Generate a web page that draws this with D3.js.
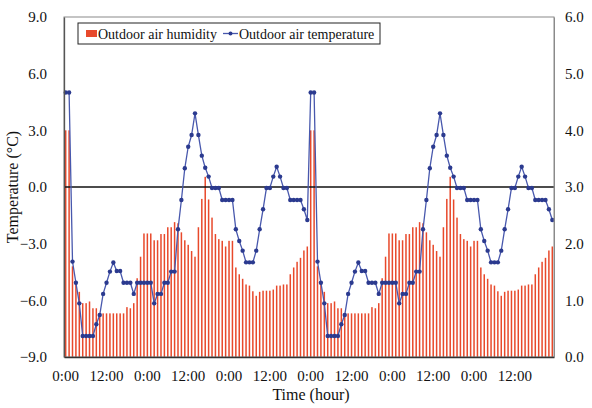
<!DOCTYPE html>
<html lang="en">
<head>
    <meta charset="UTF-8">
    <script src="https://d3js.org/d3.v7.min.js"></script>
    <title>Outdoor air</title>
    <style>
        body { margin: 0; background: #fff; }
        text { font-family: "Liberation Serif", "Times New Roman", serif; fill: #111; }
    </style>
</head>
<body>
<div id="viz"></div>
<script>
    // hourly values over 6 days
    const humidity = [
        4.0, 4.0, 1.6, 1.3, 1.15, 0.95, 0.95, 0.98, 0.86, 0.86, 0.77, 0.77,
        0.77, 0.77, 0.77, 0.77, 0.77, 0.77, 0.88, 0.86, 0.95, 1.39, 1.77, 2.18,
        2.18, 2.18, 2.06, 2.06, 2.17, 2.17, 2.29, 2.29, 2.38, 2.36, 2.2, 2.06,
        1.98, 1.87, 1.77, 2.29, 2.79, 3.18, 2.78, 2.46, 2.17, 2.08, 2.05, 1.95,
        2.05, 2.05, 1.58, 1.46, 1.38, 1.28, 1.26, 1.16, 1.08, 1.15, 1.17, 1.17,
        1.17, 1.19, 1.26, 1.26, 1.28, 1.28, 1.46, 1.58, 1.68, 1.75, 1.88, 1.95,
        4.0, 4.0, 1.6, 1.3, 1.15, 0.95, 0.95, 0.98, 0.86, 0.86, 0.77, 0.77,
        0.77, 0.77, 0.77, 0.77, 0.77, 0.77, 0.88, 0.86, 0.95, 1.39, 1.77, 2.18,
        2.18, 2.18, 2.06, 2.06, 2.17, 2.17, 2.29, 2.29, 2.38, 2.36, 2.2, 2.06,
        1.98, 1.87, 1.77, 2.29, 2.79, 3.18, 2.78, 2.46, 2.17, 2.08, 2.05, 1.95,
        2.05, 2.05, 1.58, 1.46, 1.38, 1.28, 1.26, 1.16, 1.08, 1.15, 1.17, 1.17,
        1.17, 1.19, 1.26, 1.26, 1.28, 1.28, 1.46, 1.58, 1.68, 1.75, 1.88, 1.95
    ];
    const temperature = [
        5.0, 5.0, -3.95, -5.07, -6.16, -7.89, -7.89, -7.89, -7.89, -7.27, -6.78, -5.66,
        -5.07, -4.48, -4.0, -4.45, -4.45, -5.07, -5.07, -5.07, -5.66, -5.07, -5.07, -5.07,
        -5.07, -5.07, -6.16, -5.66, -5.66, -5.07, -5.07, -4.48, -4.48, -2.24, -0.69, 0.99,
        2.13, 2.75, 3.9, 2.75, 1.66, 1.02, 0.55, -0.05, -0.05, -0.05, -0.69, -0.69,
        -0.69, -0.69, -2.24, -2.86, -3.37, -3.99, -3.99, -3.99, -3.37, -2.24, -1.18, -0.05,
        -0.05, 0.55, 1.07, 0.55, -0.05, -0.05, -0.69, -0.69, -0.69, -0.69, -1.18, -1.75,
        5.0, 5.0, -3.95, -5.07, -6.16, -7.89, -7.89, -7.89, -7.89, -7.27, -6.78, -5.66,
        -5.07, -4.48, -4.0, -4.45, -4.45, -5.07, -5.07, -5.07, -5.66, -5.07, -5.07, -5.07,
        -5.07, -5.07, -6.16, -5.66, -5.66, -5.07, -5.07, -4.48, -4.48, -2.24, -0.69, 0.99,
        2.13, 2.75, 3.9, 2.75, 1.66, 1.02, 0.55, -0.05, -0.05, -0.05, -0.69, -0.69,
        -0.69, -0.69, -2.24, -2.86, -3.37, -3.99, -3.99, -3.99, -3.37, -2.24, -1.18, -0.05,
        -0.05, 0.55, 1.07, 0.55, -0.05, -0.05, -0.69, -0.69, -0.69, -0.69, -1.18, -1.75
    ];
    const hours = d3.range(humidity.length);
    const tickHours = [0, 12, 24, 36, 48, 60, 72, 84, 96, 108, 120, 132];
    const tickLabels = ["0:00", "12:00", "0:00", "12:00", "0:00", "12:00",
                        "0:00", "12:00", "0:00", "12:00", "0:00", "12:00"];
    const tempTicks = [-9, -6, -3, 0, 3, 6, 9];
    const humTicks = [0, 1, 2, 3, 4, 5, 6];

    const W = 592, H = 408;
    const margin = {top: 17, right: 38, bottom: 51, left: 64};
    const width = W - margin.left - margin.right,
        height = H - margin.top - margin.bottom;

    const svg = d3.select("#viz")
        .append("svg")
        .attr("width", W)
        .attr("height", H)
        .append("g")
        .attr("transform", `translate(${margin.left}, ${margin.top})`);

    // scales
    const x = d3.scaleBand()
        .domain(hours)
        .range([0, width])
        .paddingInner(0.56)
        .paddingOuter(0.28);
    const xc = h => x(h) + x.bandwidth() / 2;
    const yT = d3.scaleLinear().domain([-9, 9]).range([height, 0]);
    const yH = d3.scaleLinear().domain([0, 6]).range([height, 0]);

    // humidity bars
    svg.selectAll(".bar")
        .data(hours)
        .join("rect")
        .attr("class", "bar")
        .attr("x", h => x(h))
        .attr("width", x.bandwidth())
        .attr("y", h => yH(humidity[h]))
        .attr("height", h => height - yH(humidity[h]))
        .style("fill", "#e8492b");

    // zero line
    svg.append("line")
        .attr("x1", 0).attr("x2", width)
        .attr("y1", yT(0)).attr("y2", yT(0))
        .style("stroke", "#111")
        .style("stroke-width", 1.4);

    // temperature line
    const line = d3.line()
        .x(h => xc(h))
        .y(h => yT(temperature[h]));
    svg.append("path")
        .datum(hours)
        .attr("d", line)
        .style("fill", "none")
        .style("stroke", "#4858ad")
        .style("stroke-width", 1.3);
    svg.selectAll(".dot")
        .data(hours)
        .join("circle")
        .attr("class", "dot")
        .attr("cx", h => xc(h))
        .attr("cy", h => yT(temperature[h]))
        .attr("r", 2.2)
        .style("fill", "#2b3a8f");

    // frame
    svg.append("rect")
        .attr("width", width).attr("height", height)
        .style("fill", "none")
        .style("stroke", "#8a8a8a")
        .style("stroke-width", 1);

    // axes
    const gx = svg.append("g")
        .attr("transform", `translate(0, ${height})`)
        .call(d3.axisBottom(x).tickValues(tickHours)
            .tickFormat((h, i) => tickLabels[i]).tickSize(0).tickPadding(13));
    const gl = svg.append("g")
        .call(d3.axisLeft(yT).tickValues(tempTicks)
            .tickFormat(d3.format(".1f")).tickSize(0).tickPadding(17));
    const gr = svg.append("g")
        .attr("transform", `translate(${width}, 0)`)
        .call(d3.axisRight(yH).tickValues(humTicks)
            .tickFormat(d3.format(".1f")).tickSize(0).tickPadding(11));
    [gx, gl, gr].forEach(g => {
        g.selectAll("text")
            .style("font-family", '"Liberation Serif", serif')
            .style("font-size", "15px")
            .style("fill", "#111");
    });
    gx.select(".domain").style("stroke", "#333").style("stroke-width", 1.3);
    gl.select(".domain").style("stroke", "#555").style("stroke-width", 1.3);
    gr.select(".domain").style("stroke", "#8a8a8a");

    // axis titles
    svg.append("text")
        .attr("x", width / 2 + 2)
        .attr("y", height + 43)
        .attr("text-anchor", "middle")
        .style("font-size", "16px")
        .text("Time (hour)");
    svg.append("text")
        .attr("transform", `translate(${-46}, ${height / 2}) rotate(-90)`)
        .attr("text-anchor", "middle")
        .style("font-size", "16px")
        .text("Temperature (°C)");

    // legend
    const lg = svg.append("g").attr("transform", "translate(14, 6)");
    lg.append("rect")
        .attr("width", 302).attr("height", 21)
        .style("fill", "#fff")
        .style("stroke", "#222")
        .style("stroke-width", 1);
    lg.append("rect")
        .attr("x", 8).attr("y", 7).attr("width", 11).attr("height", 7)
        .style("fill", "#e8492b");
    lg.append("text")
        .attr("x", 20).attr("y", 15.5)
        .style("font-size", "14px")
        .text("Outdoor air humidity");
    lg.append("line")
        .attr("x1", 145).attr("x2", 160).attr("y1", 10.5).attr("y2", 10.5)
        .style("stroke", "#4858ad").style("stroke-width", 1.3);
    lg.append("circle")
        .attr("cx", 152.5).attr("cy", 10.5).attr("r", 2)
        .style("fill", "#2b3a8f");
    lg.append("text")
        .attr("x", 161).attr("y", 15.5)
        .style("font-size", "14px")
        .text("Outdoor air temperature");
</script>
</body>
</html>
